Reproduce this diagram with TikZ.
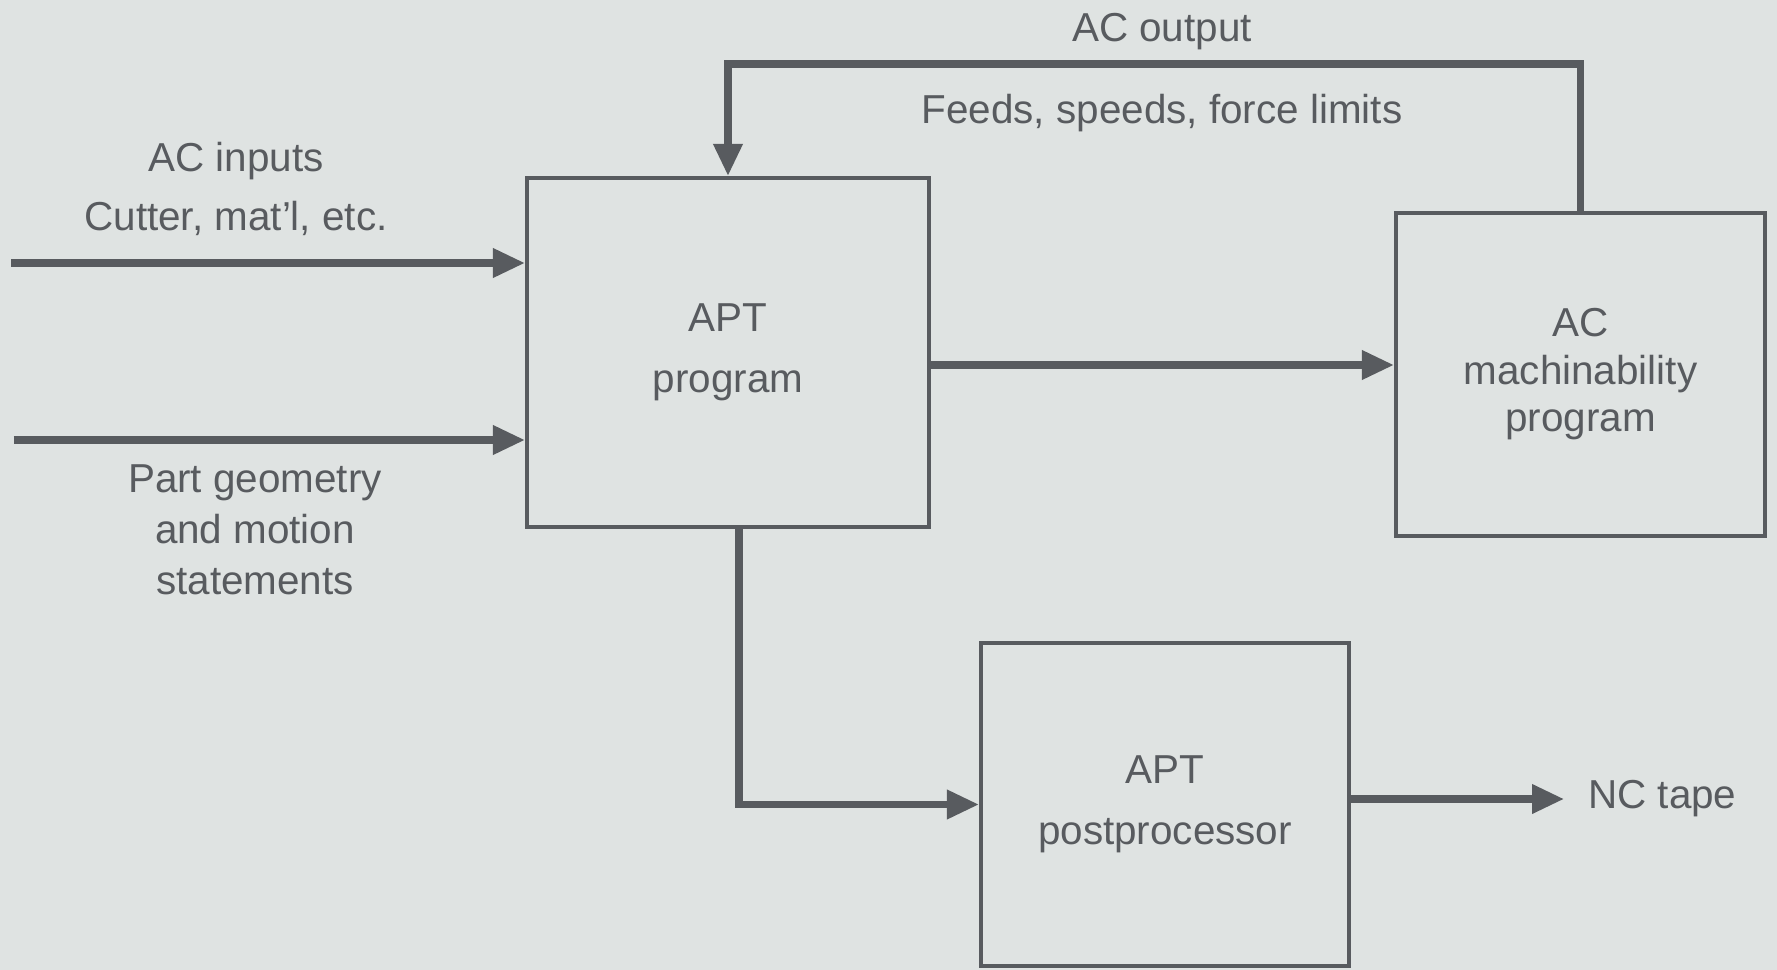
\documentclass[tikz,border=0pt]{standalone}
\usepackage{fontspec}
\setmainfont{Liberation Sans}
\usetikzlibrary{positioning,arrows.meta,calc,backgrounds}
\definecolor{paper}{RGB}{223,227,226}
\definecolor{ink}{RGB}{88,91,95}
\tikzset{
  flow/.style={-{Triangle[length=3.2mm,width=2.8mm]},line width=2pt,ink},
  blk/.style={draw=ink,line width=1.2pt,align=center,text=ink,inner sep=0pt},
  lbl/.style={text=ink,align=center,inner sep=1pt},
}

\begin{document}
\begin{tikzpicture}[font=\fontsize{11.5}{14.5}\selectfont]
  \fill[paper] (0,0) rectangle (17.77,-9.70);
  \useasboundingbox (0,0) rectangle (17.77,-9.70);
  % blocks
  \node[blk,minimum width=4.02cm,minimum height=3.49cm] (apt) at (7.28,-3.525)
    {APT\\[3pt]program};
  \node[blk,minimum width=3.69cm,minimum height=3.23cm] (acm) at (15.805,-3.745)
    {AC\\[-1pt]machinability\\[-1pt]program};
  \node[blk,minimum width=3.68cm,minimum height=3.23cm] (post) at (11.65,-8.045)
    {APT\\[3pt]postprocessor};
  % labels
  \node[lbl] (acin) at (2.36,-1.61) {AC inputs};
  \node[lbl] (cutter) at (2.36,-2.18) {Cutter, mat'l, etc.};
  \node[lbl] (partgeo) at (2.55,-5.30) {Part geometry\\and motion\\statements};
  \node[lbl] (acout) at (11.62,-0.32) {AC output};
  \node[lbl] (feeds) at (11.62,-1.13) {Feeds, speeds, force limits};
  \node[lbl,anchor=west] (tape) at (15.84,-7.99) {NC tape};
  % free ends
  \coordinate (inA) at (0.11,-2.63);
  \coordinate (inB) at (0.14,-4.40);
  \coordinate (mid) at (9.29,-3.65);
  \coordinate (fb) at (0,-0.64);
  % connectors
  \draw[flow] (inA) -- (inA -| apt.west);
  \draw[flow] (inB) -- (inB -| apt.west);
  \draw[flow] (apt.east |- mid) -- (mid -| acm.west);
  \draw[flow] (acm.north) -- (acm.north |- fb) -| (apt.north);
  \draw[flow] ([xshift=1.1mm]apt.south) |- (post.west);
  \draw[flow,shorten >=2mm] (post.east |- tape) -- (tape.west);
\end{tikzpicture}
\end{document}
